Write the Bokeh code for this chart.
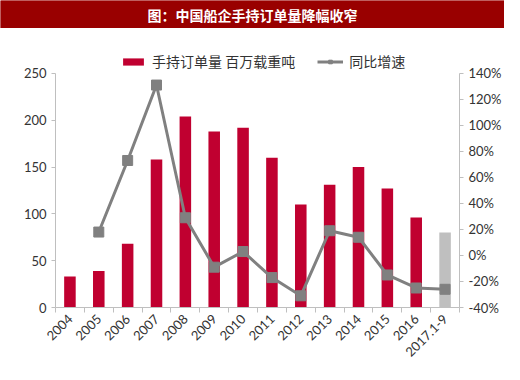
import math
from bokeh.plotting import figure
from bokeh.models import (Range1d, LinearAxis, FixedTicker, PrintfTickFormatter,
                          Legend, LegendItem, ColumnDataSource, Label, BoxAnnotation)
from bokeh.layouts import column
from bokeh.embed import file_html
from bokeh.resources import INLINE

# ---- data ----
years = ["2004", "2005", "2006", "2007", "2008", "2009", "2010", "2011",
         "2012", "2013", "2014", "2015", "2016", "2017.1-9"]
orders = [33, 39, 68, 158, 204, 188, 192, 160, 110, 131, 150, 127, 96, 80]
growth = [float("nan"), 18, 73, 131, 29, -9, 3, -17, -31, 19, 14, -15, -25, -26]
left_ticks = [0, 50, 100, 150, 200, 250]
right_ticks = [-40, -20, 0, 20, 40, 60, 80, 100, 120, 140]
title_text = "图：中国船企手持订单量降幅收窄"
bar_label = "手持订单量 百万载重吨"
line_label = "同比增速"

# ---- styles ----
RED = "#C00030"
LIGHT = "#BFBFBF"
GREY = "#808080"
BAND = "#990000"
AXIS = "#BFBFBF"
TXT = "#333333"
CJK = "Noto Sans CJK SC"
NUM = "Lato"

n = len(years)
xs = [i + 0.5 for i in range(n)]
colors = [RED] * (n - 1) + [LIGHT]

W = 504
HDR_H = 28
BOTTOM = 56          # room for rotated labels
FRAME_H = 280        # frame reaches up to the header
AXIS_PX = 235        # pixel length of the drawn axes
L_MIN, L_MAX = left_ticks[0], left_ticks[-1]
R_MIN, R_MAX = right_ticks[0], right_ticks[-1]
l_top = L_MIN + (L_MAX - L_MIN) * FRAME_H / AXIS_PX
r_top = R_MIN + (R_MAX - R_MIN) * FRAME_H / AXIS_PX

# ---- header band ----
hdr = figure(width=W, height=HDR_H, x_range=Range1d(0, 1), y_range=Range1d(0, 1),
             toolbar_location=None, output_backend="svg", min_border=0,
             x_axis_location=None, y_axis_location=None,
             background_fill_color=BAND, border_fill_color=None,
             outline_line_color=None)
hdr.frame_align = False
hdr.grid.visible = False
hdr.add_layout(BoxAnnotation(fill_color=BAND, fill_alpha=1, line_color=None))
hdr.add_layout(Label(x=0.5, y=0.5, text=title_text, text_align="center",
                     text_baseline="middle", text_color="white",
                     text_font=CJK, text_font_size="14px", text_font_style="bold"))

# ---- main chart ----
p = figure(width=W, height=FRAME_H + BOTTOM, x_range=Range1d(0, n),
           y_range=Range1d(L_MIN, l_top),
           toolbar_location=None, output_backend="svg",
           min_border_left=55, min_border_right=41, min_border_top=0,
           min_border_bottom=BOTTOM, outline_line_color=None)
p.frame_align = False
p.grid.visible = False
p.extra_y_ranges = {"pct": Range1d(R_MIN, r_top)}

src = ColumnDataSource(dict(x=xs, top=orders, color=colors, g=growth))
bars = p.vbar(x="x", top="top", width=0.4, fill_color="color", line_color=None, source=src)
ln = p.line(x="x", y="g", y_range_name="pct", line_color=GREY, line_width=3, source=src)
sc = p.scatter(x="x", y="g", y_range_name="pct", marker="square", size=10,
               fill_color=GREY, line_color=GREY, source=src)

# x axis
xa = p.xaxis[0]
xa.ticker = FixedTicker(ticks=xs, minor_ticks=list(range(n + 1)))
xa.major_label_overrides = {x: y for x, y in zip(xs, years)}
xa.major_tick_in = 0
xa.major_tick_out = 0
xa.minor_tick_in = 0
xa.minor_tick_out = 5
xa.minor_tick_line_color = AXIS
xa.axis_line_color = AXIS
xa.major_label_orientation = math.pi / 4
xa.major_label_text_font = NUM
xa.major_label_text_font_size = "13px"
xa.major_label_text_color = TXT
xa.major_label_standoff = 4

# left axis
ya = p.yaxis[0]
ya.ticker = FixedTicker(ticks=left_ticks)
ya.bounds = (L_MIN, L_MAX)
ya.axis_line_color = AXIS
ya.major_tick_line_color = AXIS
ya.major_tick_in = 0
ya.major_tick_out = 4
ya.minor_tick_line_color = None
ya.major_label_text_font = NUM
ya.major_label_text_font_size = "13px"
ya.major_label_text_color = TXT

# right axis
ra = LinearAxis(y_range_name="pct", ticker=FixedTicker(ticks=right_ticks),
                formatter=PrintfTickFormatter(format="%d%%"), bounds=(R_MIN, R_MAX))
ra.axis_line_color = AXIS
ra.major_tick_line_color = AXIS
ra.major_tick_in = 0
ra.major_tick_out = 4
ra.minor_tick_line_color = None
ra.major_label_text_font = NUM
ra.major_label_text_font_size = "13px"
ra.major_label_text_color = TXT
p.add_layout(ra, "right")

legend = Legend(items=[LegendItem(label=bar_label, renderers=[bars], index=0),
                       LegendItem(label=line_label, renderers=[ln, sc])],
                orientation="horizontal", location=(65, AXIS_PX + 1),
                border_line_color=None, background_fill_alpha=0,
                label_text_font=CJK, label_text_font_size="14px",
                label_text_color=TXT, glyph_width=26, glyph_height=9,
                spacing=22, padding=0, margin=0, label_standoff=6)
p.add_layout(legend)

layout = column(hdr, p, spacing=0)
open("out.html", "w").write(file_html(layout, INLINE))
